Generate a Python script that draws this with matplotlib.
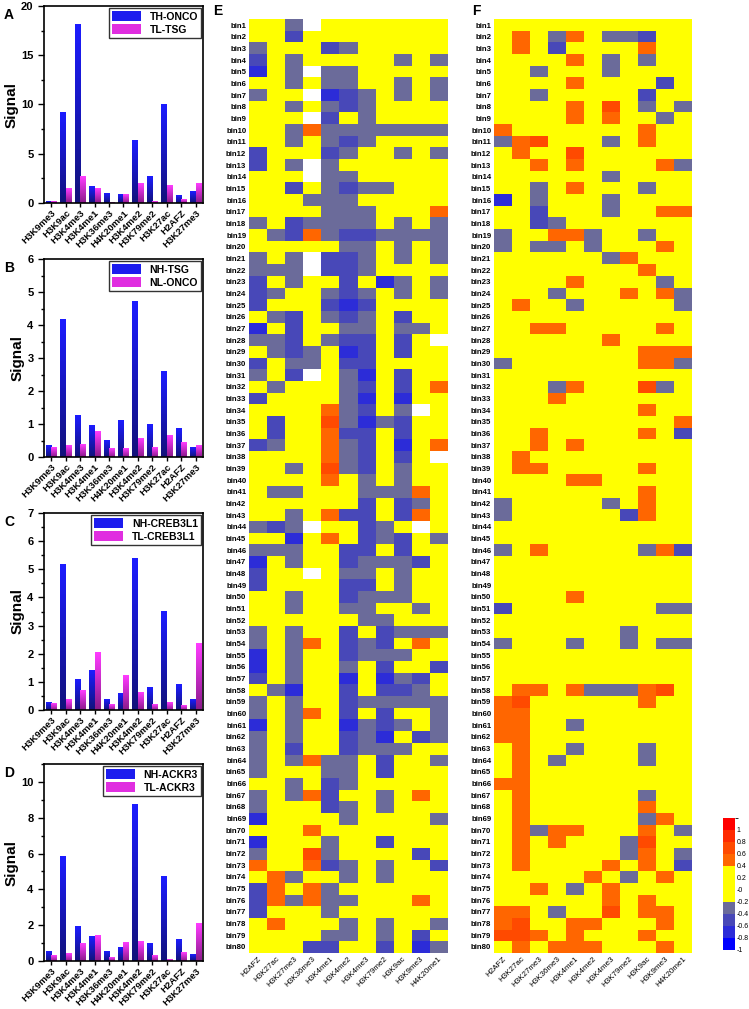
import numpy as np
import matplotlib
matplotlib.use("Agg")
import matplotlib.pyplot as plt
from matplotlib.colors import ListedColormap, BoundaryNorm, LinearSegmentedColormap
from matplotlib.patches import Patch
from matplotlib.ticker import MultipleLocator

plt.rcParams["font.family"] = "Liberation Sans"

# ---- bar chart data (panels A-D) ----
marks = ["H3K9me3", "H3K9ac", "H3K4me3", "H3K4me1", "H3K36me3", "H4K20me1",
         "H3K4me2", "H3K79me2", "H3K27ac", "H2AFZ", "H3K27me3"]

a_names = ["TH-ONCO", "TL-TSG"]
a_high = [0.15, 9.2, 18.1, 1.7, 1.0, 0.85, 6.35, 2.7, 10.0, 0.8, 1.15]
a_low = [0.15, 1.5, 2.65, 1.45, 0.05, 0.9, 1.95, 0.2, 1.8, 0.4, 1.95]

b_names = ["NH-TSG", "NL-ONCO"]
b_high = [0.35, 4.17, 1.27, 0.95, 0.5, 1.1, 4.72, 1.0, 2.6, 0.85, 0.3]
b_low = [0.3, 0.35, 0.37, 0.76, 0.27, 0.27, 0.55, 0.3, 0.66, 0.45, 0.35]

c_names = ["NH-CREB3L1", "TL-CREB3L1"]
c_high = [0.27, 5.18, 1.08, 1.4, 0.37, 0.57, 5.37, 0.8, 3.5, 0.92, 0.38]
c_low = [0.22, 0.37, 0.68, 2.05, 0.18, 1.23, 0.62, 0.2, 0.28, 0.17, 2.38]

d_names = ["NH-ACKR3", "TL-ACKR3"]
d_high = [0.52, 5.83, 1.92, 1.35, 0.52, 0.77, 8.72, 1.0, 4.73, 1.2, 0.37]
d_low = [0.28, 0.42, 1.0, 1.42, 0.18, 1.02, 1.07, 0.33, 0.08, 0.48, 2.07]

# ---- heatmap data (panels E, F), one code per cell ----
heat_cols = ["H2AFZ", "H3K27ac", "H3K27me3", "H3K36me3", "H3K4me1", "H3K4me2",
             "H3K4me3", "H3K79me2", "H3K9ac", "H3K9me3", "H4K20me1"]
bins = [f"bin{i}" for i in range(1, 81)]
levels = {"Y": 0.0, "G": -0.3, "B": -0.5, "D": -0.7, "O": 0.5, "R": 0.7, "W": np.nan}

e_rows = [
    "YYGWYYYYYYY", "YYBYYYYYYYY", "GYYYBGYYYYY", "BYGYYYYYGYG", "DYGWGGYYYYY",
    "YYGYGGYYGYG", "GYYWDBGYGYG", "YYGYGBGYYYY", "YYYWBYGYYYY", "YYGOGGGGGGG",
    "YYGYGBGYYYY", "BYYYBGYYGYG", "BYGWGYYYYYY", "YYYWGGYYYYY", "YYBYGBGGYYY",
    "YYYGGGYYYYY", "YYYYGGGYYYO", "GYBGGGGYGYG", "YGBOGBBGGGG", "YYYYYGGYGYG",
    "GYGWBBGYGYG", "GGGWBBGYYYY", "BYGYYBYDGYG", "BGYYGBGYGYG", "BYYYBDBYYYY",
    "YGBYGBGYBYY", "DYBYYGGYGGY", "GGBYGBBYBYW", "YGBGYDBYBYY", "BYGGYBBYYYY",
    "GYBWYGDYBYY", "YGYYYGBYBYO", "BYYYYGDYDYY", "YYYYOGBYGWY", "YBYYRGDGBYY",
    "YBYYOBBYBYY", "BGYYOGBYDYO", "YYYYOGBYBYW", "YYGYRGBYGYY", "YYYYOYGYGYY",
    "YGGYYYGGGOY", "YYYYYYBYBGY", "YYGYOBBYBOY", "GBGWYYBGYWY", "YYDYOYBGBYG",
    "GGGYYBBYBYY", "DYGYYBGGGBY", "BYYWYGGYGYY", "BYYYYBBYGYY", "YYGYYBGGGYY",
    "YYGYYGGYYGY", "YYYYYYGGYYY", "GYGYYBYBGGG", "GYGOYBGBYOY", "DYGYYBGGGYY",
    "DYGYYGYBYYB", "BYGYYDYDGBY", "YGDYYBYBBGY", "GYGYYBGGGGG", "GYGOYBYBYYG",
    "DYGYYDGBGYG", "GYGYYBGDYBG", "GYBYYBGGGYY", "GYGOGGYBYYG", "GYYYGGYBYYY",
    "YYGYBGYYYYY", "GYGOBYYGYOY", "GYYYBGYGYYY", "DYYYYGYYYYG", "YYYOYYYYYYY",
    "DYYYGYYBYYY", "GYYRGYYYYBY", "OYYOBGYGYYB", "YOGYYGYGYYY", "BOYOGYYYYYY",
    "BOGOGGYYYOY", "BYYYGYYYYYY", "YOYYYGYGYYG", "YYYYGGYGYBY", "YYYBBYYBYDG",
]

f_rows = [
    "YYYYYYYYYYY", "YOYGOYGGBYY", "YOYBYYYYOYY", "YYYYOYGYGYY", "YYGYYYGYYYY",
    "YYYYOYYYYBY", "YYGYYYYYBYY", "YYYYOYRYGYG", "YYYYOYOYYGY", "OYYYYYYYOYY",
    "GORYYYGYOYY", "YOYYRYYYYYY", "YYOYOYYYYOG", "YYYYYYGYYYY", "YYGYOYYYGYY",
    "DYGYYYGYYYY", "YYBYYYGYYOO", "YYBGYYYYYYY", "GYYOOGYYGYY", "GYGGYGYYYOY",
    "YYYYYYGOYYY", "YYYYYYYYOYY", "YYYYOYYYYGY", "YYYGYYYOYOG", "YOYYGYYYYYG",
    "YYYYYYYYYYY", "YYOOYYYYYOY", "YYYYYYOYYYY", "YYYYYYYYOOO", "GYYYYYYYOOG",
    "YYYYYYYYYYY", "YYYGOYYYRGY", "YYYOYYYYYYY", "YYYYYYYYOYY", "YYYYYYYYYYO",
    "YYOYYYYYOYB", "YYOYOYYYYYY", "YOYYYYYYYYY", "YOOYYYYYOYY", "YYYYOOYYYYY",
    "YYYYYYYYOYY", "GYYYYYGYOYY", "GYYYYYYBOYY", "YYYYYYYYYYY", "YYYYYYYYYYY",
    "GYOYYYYYGOB", "YYYYYYYYYYY", "YYYYYYYYYYY", "YYYYYYYYYYY", "YYYYOYYYYYY",
    "BYYYYYYYYGG", "YYYYYYYYYYY", "YYYYYYYGYYY", "GYYYGYYGYGG", "YYYYYYYYYYY",
    "YYYYYYYYYYY", "YYYYYYYYYYY", "YOOYOGGGORY", "ORYYYYYYOYY", "OOYYYYYYYYY",
    "OOYYGYYYYYY", "OOYYYYYYYYY", "YOYYGYYYGYY", "YOYGYYYYGYY", "YOYYYYYYYYY",
    "OOYYYYYYYYY", "YOYYYYYYGYY", "YOYYYYYYOYY", "YOYYYYYYGOY", "YOGOOYYYOYG",
    "YOYOYYYGRYY", "YOYYYYYGOYG", "YOYYYYOYOYB", "YYYYYOYGYOY", "YYOYGYOYYYY",
    "YYYYYYOYOYY", "OOYGYYRYOOY", "ORYYOOYYYOY", "RROYOYYYOYY", "YOYOOOYYYOY",
]

W, H = 749, 1009
fig = plt.figure(figsize=(W / 100, H / 100), dpi=100)


def px(x0, y0, x1, y1):
    return [x0 / W, 1 - y1 / H, (x1 - x0) / W, (y1 - y0) / H]


blue_cm = LinearSegmentedColormap.from_list("bl", ["#12127a", "#1c1cff"])
mag_cm = LinearSegmentedColormap.from_list("mg", ["#8a1a8a", "#ff3cff"])
grad = np.linspace(0, 1, 64).reshape(-1, 1)


def gradient_bars(ax, xs, heights, width, cm):
    for xc, h in zip(xs, heights):
        ax.imshow(grad, extent=[xc - width / 2, xc + width / 2, 0, h], origin="lower",
                  aspect="auto", cmap=cm, interpolation="bilinear", zorder=2)


bar_panels = [
    ("A", a_names, a_high, a_low, 20, 5, 2.5, 6, 203),
    ("B", b_names, b_high, b_low, 6, 1, 0.5, 259, 457),
    ("C", c_names, c_high, c_low, 7, 1, 0.5, 513, 710),
    ("D", d_names, d_high, d_low, 11, 2, 1, 764, 961),
]

x = np.arange(len(marks))
bw = 0.38
for letter, names, hi, lo, ymax, major, minor, top, bottom in bar_panels:
    ax = fig.add_axes(px(44, top, 203, bottom))
    gradient_bars(ax, x - bw / 2, hi, bw, blue_cm)
    gradient_bars(ax, x + bw / 2, lo, bw, mag_cm)
    ax.set_xlim(-0.5, len(marks) - 0.5)
    ax.set_ylim(0, ymax)
    ax.set_aspect("auto")
    ax.yaxis.set_major_locator(MultipleLocator(major))
    ax.yaxis.set_minor_locator(MultipleLocator(minor))
    ax.set_xticks(x)
    ax.set_xticklabels(marks, rotation=45, ha="right", rotation_mode="anchor",
                       fontsize=6.8, fontweight="bold")
    for t in ax.get_yticklabels():
        t.set_fontweight("bold")
    ax.tick_params(axis="y", labelsize=8, length=4, width=1)
    ax.tick_params(axis="y", which="minor", length=2.5, width=1)
    ax.tick_params(axis="x", length=3, width=1, pad=1)
    for s in ax.spines.values():
        s.set_linewidth(1.2)
    ax.set_ylabel("Signal", fontsize=11, fontweight="bold", labelpad=2)
    handles = [Patch(facecolor="#1c1cee", label=names[0]),
               Patch(facecolor="#e02ee0", label=names[1])]
    leg = ax.legend(handles=handles, loc="upper right", frameon=True, fancybox=False,
                    edgecolor="black", handlelength=2.8, handleheight=1.1,
                    borderpad=0.3, labelspacing=0.25, borderaxespad=0.2,
                    prop={"weight": "bold", "size": 7.5})
    leg.get_frame().set_linewidth(1.0)
    fig.text(4 / W, 1 - (top + 2) / H, letter, fontsize=10, fontweight="bold", va="top")

# ---- heatmaps ----
cb_colors = ["#0000ff", "#2c2cd8", "#4848b8", "#6b6b9a", "#ffff00", "#ffff00",
             "#ffff00", "#ff6600", "#ff4a00", "#ff2a00", "#ff0000"]
cb_bounds = np.round(np.arange(-1.0, 1.21, 0.2), 1)
cmap = ListedColormap(cb_colors)
cmap.set_bad("white")
norm = BoundaryNorm(cb_bounds, cmap.N)


def to_matrix(rows):
    return np.array([[levels[c] for c in r] for r in rows], dtype=float)


for letter, rows, x0, x1, lx in [("E", e_rows, 249, 447, 213), ("F", f_rows, 494, 692, 472)]:
    ax = fig.add_axes(px(x0, 19.3, x1, 952.7))
    ax.imshow(to_matrix(rows), cmap=cmap, norm=norm, aspect="auto", interpolation="nearest")
    ax.set_yticks(np.arange(len(bins)))
    ax.set_yticklabels(bins, fontsize=5.6, fontweight="bold")
    ax.set_xticks(np.arange(len(heat_cols)))
    ax.set_xticklabels(heat_cols, rotation=45, ha="right", rotation_mode="anchor", fontsize=5.8)
    ax.tick_params(length=0, pad=2)
    for s in ax.spines.values():
        s.set_visible(False)
    fig.text(lx / W, 1 - 4 / H, letter, fontsize=10, fontweight="bold", va="top")

# colorbar with one block per label, label at the lower edge of the block
cax = fig.add_axes(px(723, 818, 735, 950))
cb = fig.colorbar(plt.cm.ScalarMappable(norm=norm, cmap=cmap), cax=cax,
                  ticks=cb_bounds[:-1], spacing="proportional")
cb.ax.set_yticklabels([f"{v:g}" for v in cb_bounds[:-1]], fontsize=5)
cb.ax.tick_params(length=0, pad=1)
cb.outline.set_visible(False)

fig.savefig("out.png", dpi=100)
